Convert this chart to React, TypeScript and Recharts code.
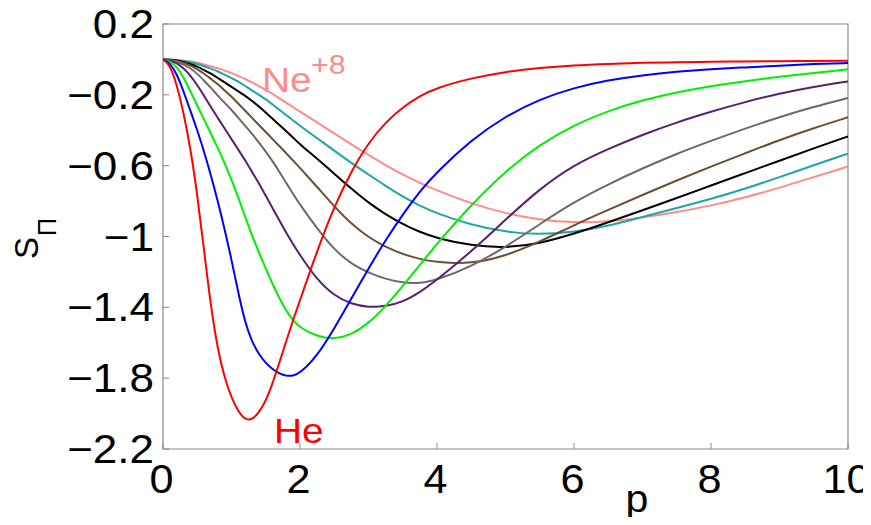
import React from 'react';
import { LineChart, Line, XAxis, YAxis, ReferenceArea } from 'recharts';

// momentum grid p
const P = [0, 0.1, 0.2, 0.3, 0.4, 0.5, 0.6, 0.7, 0.8, 0.9, 1, 1.1, 1.2, 1.3, 1.4, 1.5, 1.6, 1.7, 1.8, 1.9, 2,
  2.25, 2.5, 2.75, 3, 3.25, 3.5, 3.75, 4, 4.5, 5, 5.5, 6, 6.5, 7, 7.5, 8, 8.5, 9, 9.5, 10];

const HE = [0, -0.03, -0.14, -0.3, -0.5, -0.76, -1.08, -1.4, -1.64, -1.8, -1.91, -1.99, -2.035, -2.035, -1.995, -1.93, -1.83, -1.71, -1.59, -1.47, -1.36,
  -1.08, -0.83, -0.63, -0.47, -0.355, -0.27, -0.205, -0.16, -0.105, -0.07, -0.047, -0.033, -0.025, -0.019, -0.016, -0.013, -0.011, -0.01, -0.009, -0.008];
const LI = [0, -0.02, -0.08, -0.18, -0.29, -0.4, -0.52, -0.655, -0.8, -0.96, -1.13, -1.32, -1.49, -1.595, -1.665, -1.715, -1.75, -1.775, -1.788, -1.787, -1.772,
  -1.675, -1.52, -1.35, -1.18, -1.02, -0.875, -0.745, -0.635, -0.455, -0.32, -0.225, -0.16, -0.117, -0.089, -0.069, -0.055, -0.045, -0.035, -0.026, -0.02];
const BE = [0, -0.01, -0.04, -0.1, -0.18, -0.26, -0.34, -0.42, -0.5, -0.585, -0.68, -0.78, -0.89, -0.995, -1.09, -1.18, -1.27, -1.35, -1.42, -1.475, -1.515,
  -1.565, -1.58, -1.555, -1.49, -1.395, -1.28, -1.16, -1.04, -0.82, -0.63, -0.48, -0.37, -0.29, -0.23, -0.185, -0.15, -0.122, -0.098, -0.076, -0.056];
const B = [0, -0.005, -0.02, -0.05, -0.09, -0.145, -0.205, -0.27, -0.33, -0.39, -0.45, -0.51, -0.57, -0.635, -0.7, -0.77, -0.84, -0.91, -0.98, -1.045, -1.105,
  -1.245, -1.335, -1.382, -1.4, -1.395, -1.37, -1.315, -1.245, -1.085, -0.905, -0.73, -0.595, -0.505, -0.425, -0.355, -0.295, -0.24, -0.192, -0.155, -0.124];
const C = [0, -0.003, -0.012, -0.028, -0.05, -0.08, -0.12, -0.16, -0.205, -0.245, -0.285, -0.33, -0.375, -0.42, -0.47, -0.52, -0.575, -0.635, -0.698, -0.76, -0.82,
  -0.955, -1.075, -1.155, -1.205, -1.24, -1.262, -1.265, -1.245, -1.17, -1.06, -0.93, -0.805, -0.705, -0.615, -0.532, -0.46, -0.39, -0.325, -0.268, -0.218];
const N = [0, -0.002, -0.008, -0.018, -0.035, -0.055, -0.08, -0.11, -0.14, -0.175, -0.21, -0.25, -0.29, -0.33, -0.37, -0.41, -0.45, -0.49, -0.53, -0.572, -0.613,
  -0.72, -0.83, -0.93, -1.005, -1.06, -1.1, -1.128, -1.146, -1.155, -1.11, -1.03, -0.935, -0.85, -0.765, -0.683, -0.605, -0.53, -0.455, -0.388, -0.327];
const O = [0, -0.002, -0.006, -0.014, -0.025, -0.04, -0.06, -0.08, -0.105, -0.13, -0.155, -0.18, -0.205, -0.235, -0.265, -0.3, -0.335, -0.37, -0.405, -0.442, -0.48,
  -0.56, -0.645, -0.73, -0.81, -0.875, -0.93, -0.975, -1.01, -1.052, -1.065, -1.04, -0.985, -0.92, -0.852, -0.783, -0.712, -0.642, -0.572, -0.502, -0.435];
const F = [0, -0.001, -0.004, -0.009, -0.016, -0.026, -0.038, -0.052, -0.068, -0.086, -0.105, -0.125, -0.15, -0.175, -0.2, -0.225, -0.255, -0.285, -0.315, -0.345, -0.375,
  -0.445, -0.515, -0.585, -0.65, -0.715, -0.775, -0.828, -0.87, -0.935, -0.975, -0.99, -0.975, -0.94, -0.89, -0.839, -0.788, -0.73, -0.665, -0.597, -0.532];
const NE = [0, -0.001, -0.003, -0.007, -0.012, -0.019, -0.028, -0.038, -0.05, -0.063, -0.077, -0.093, -0.11, -0.13, -0.15, -0.172, -0.195, -0.22, -0.245, -0.27, -0.295,
  -0.355, -0.418, -0.48, -0.54, -0.597, -0.65, -0.698, -0.74, -0.815, -0.87, -0.905, -0.922, -0.918, -0.893, -0.862, -0.826, -0.78, -0.725, -0.665, -0.604];

const SERIES = [
  { key: 'ne', values: NE, color: '#ff8a8a' },
  { key: 'f', values: F, color: '#1ca6a6' },
  { key: 'o', values: O, color: '#000000' },
  { key: 'n', values: N, color: '#6b4f33' },
  { key: 'c', values: C, color: '#6a6a6a' },
  { key: 'b', values: B, color: '#5a1f6e' },
  { key: 'be', values: BE, color: '#00f000' },
  { key: 'li', values: LI, color: '#0000ff' },
  { key: 'he', values: HE, color: '#ff0000' },
];

const X_TICKS = [0, 2, 4, 6, 8, 10];
const Y_TICKS = [0.2, -0.2, -0.6, -1, -1.4, -1.8, -2.2];

const data = P.map((p, i) => {
  const row: Record<string, number> = { p };
  SERIES.forEach((s) => { row[s.key] = s.values[i]; });
  return row;
});

const FRAME = '#8a8a8a';
const FONT = "'Liberation Sans', Arial, sans-serif";
const fmt = (v: number) => (v < 0 ? '\u2212' + String(Math.abs(v)) : String(v));

const XTick = (props: any) => {
  const { x, y, payload } = props;
  return (
    <g>
      <line x1={x} y1={y} x2={x} y2={y - 6} stroke={FRAME} strokeWidth={1} />
      <text x={0} y={0} transform={`translate(${x - 1.5},${y + 44}) scale(1.08,1)`} textAnchor="middle"
        fontSize={40} fontFamily={FONT} fill="#000">{fmt(payload.value)}</text>
    </g>
  );
};

const YTick = (props: any) => {
  const { x, y, payload } = props;
  return (
    <g>
      <line x1={x} y1={y} x2={x + 6} y2={y} stroke={FRAME} strokeWidth={1} />
      <text x={0} y={0} transform={`translate(${x - 9},${y + 14}) scale(1.1,1)`} textAnchor="end"
        fontSize={40} fontFamily={FONT} fill="#000">{fmt(payload.value)}</text>
    </g>
  );
};

export default function App() {
  return (
    <div style={{ position: 'relative', width: 863, height: 509 }}>
      <LineChart width={863} height={509} data={data} margin={{ top: 16, right: 23, bottom: 6, left: 5 }}>
        <XAxis dataKey="p" type="number" domain={[0, 10]} ticks={X_TICKS} interval={0} allowDataOverflow
          height={62} axisLine={false} tickLine={false} tickSize={0} tickMargin={0} tick={XTick} />
        <YAxis type="number" domain={[-2.2, 0.2]} ticks={Y_TICKS} interval={0} allowDataOverflow
          width={150} axisLine={false} tickLine={false} tickSize={0} tickMargin={0} tick={YTick} />
        <ReferenceArea x1={0} x2={10} y1={-2.2} y2={0.2} fill="none" fillOpacity={0} stroke={FRAME} strokeWidth={1.2} />
        {SERIES.map((s) => (
          <Line key={s.key} dataKey={s.key} type="basis" stroke={s.color} strokeWidth={2}
            dot={false} activeDot={false} isAnimationActive={false} />
        ))}
      </LineChart>
      <svg width={863} height={509} style={{ position: 'absolute', left: 0, top: 0, pointerEvents: 'none', overflow: 'visible' }}>
        <text transform="translate(266,435) scale(1.08,1)" fontSize={36} fontFamily={FONT} fill="#ff0000">He</text>
        <text transform="translate(254,84) scale(1.08,1)" fontSize={36} fontFamily={FONT} fill="#ff8a8a">Ne</text>
        <text transform="translate(303,66) scale(1.08,1)" fontSize={28} fontFamily={FONT} fill="#ff8a8a">+8</text>
        <text transform="translate(629,504) scale(1.08,1)" textAnchor="middle" fontSize={38} fontFamily={FONT} fill="#000">p</text>
        <text transform="translate(30,251) rotate(-90)" fontSize={33} fontFamily={FONT} fill="#000">S</text>
        <text transform="translate(48,228) rotate(-90)" fontSize={25} fontFamily={FONT} fill="#000">Π</text>
      </svg>
    </div>
  );
}
